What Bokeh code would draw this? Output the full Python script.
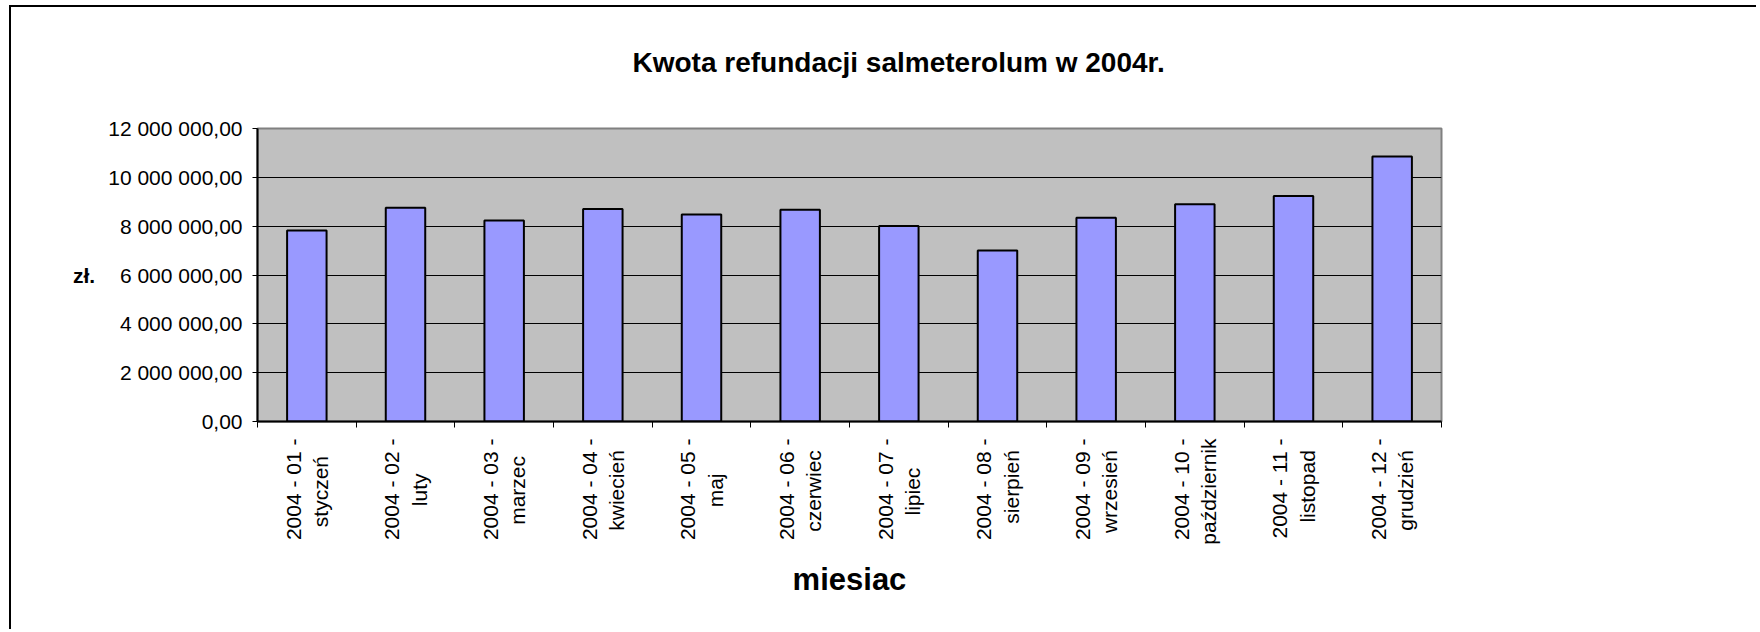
import math
from bokeh.plotting import figure
from bokeh.models import ColumnDataSource, FixedTicker, Range1d, LinearAxis
from bokeh.embed import file_html
from bokeh.resources import INLINE

# ---- data ----
months = ["2004 - 01 -\nstyczeń", "2004 - 02 -\nluty", "2004 - 03 -\nmarzec",
          "2004 - 04 -\nkwiecień", "2004 - 05 -\nmaj", "2004 - 06 -\nczerwiec",
          "2004 - 07 -\nlipiec", "2004 - 08 -\nsierpień", "2004 - 09 -\nwrzesień",
          "2004 - 10 -\npaździernik", "2004 - 11 -\nlistopad", "2004 - 12 -\ngrudzień"]
values = [7820000, 8750000, 8230000, 8700000, 8480000, 8670000,
          8010000, 7000000, 8340000, 8900000, 9240000, 10850000]
y_ticks = [0, 2000000, 4000000, 6000000, 8000000, 10000000, 12000000]
y_tick_labels = ["0,00", "2 000 000,00", "4 000 000,00", "6 000 000,00",
                 "8 000 000,00", "10 000 000,00", "12 000 000,00"]
title_text = "Kwota refundacji salmeterolum w 2004r."
x_title = "miesiac"
y_title = "zł."

FONT = "Liberation Sans"

# approximate glyph advance widths (em) used only to centre the two lines of each
# rotated category label (Bokeh aligns multi-line tick labels to one side)
_W = {" ": .278, "-": .333, "a": .556, "c": .5, "d": .556, "e": .556, "g": .556,
      "i": .222, "j": .222, "k": .5, "l": .222, "m": .833, "n": .556, "o": .556,
      "p": .556, "r": .333, "s": .5, "t": .278, "u": .556, "w": .722, "y": .5,
      "z": .5, "ń": .556, "ź": .5}


def _w(s):
    return sum(_W.get(ch, .556) for ch in s)


def centre_lines(label):
    lines = label.split("\n")
    mw = max(_w(l) for l in lines)
    return "\n".join(l + "\u00a0" * int(round((mw - _w(l)) / 2 / .278)) for l in lines)


idx = list(range(len(months)))
centres = [i + 0.5 for i in idx]
src = ColumnDataSource(dict(x=centres, top=values))

p = figure(width=1747, height=624, output_backend="svg", toolbar_location=None,
           x_range=Range1d(0, len(months)), y_range=Range1d(0, 12000000),
           x_axis_location=None,
           min_border_left=246, min_border_right=317, min_border_top=121,
           min_border_bottom=210)
p.styles = {"border-left": "2px solid black", "border-top": "2px solid black",
            "margin-left": "9px", "margin-top": "5px"}

p.background_fill_color = "#C0C0C0"
p.border_fill_color = "white"
p.outline_line_color = "#808080"
p.outline_line_width = 2

p.vbar(x="x", top="top", width=0.4, bottom=0, source=src,
       fill_color="#9999FF", line_color="black", line_width=2)

# empty spacer axis above the frame, so the title sits higher
spacer = LinearAxis(ticker=FixedTicker(ticks=[]), axis_line_color=None,
                    major_tick_out=0, major_tick_in=0, minor_tick_out=0, minor_tick_in=0,
                    major_label_standoff=0, axis_label="\u00a0",
                    axis_label_text_font_size="10px", axis_label_text_alpha=0,
                    axis_label_standoff=32)
p.add_layout(spacer, "above")

# title
p.title.text = title_text
p.title.align = "left"
p.title.offset = 375
p.title.standoff = 10
p.title.text_font = FONT
p.title.text_font_size = "28px"
p.title.text_font_style = "bold"
p.title.text_color = "black"

# y axis
ya = p.yaxis[0]
ya.ticker = FixedTicker(ticks=y_ticks)
ya.major_label_overrides = {t: l for t, l in zip(y_ticks, y_tick_labels)}
ya.major_label_text_font = FONT
ya.major_label_text_font_size = "21px"
ya.major_label_text_color = "black"
ya.major_tick_out = 5
ya.major_tick_in = 0
ya.minor_tick_out = 0
ya.minor_tick_in = 0
ya.major_label_standoff = 10
ya.axis_line_color = "black"
ya.axis_line_width = 2
ya.major_tick_line_color = "black"
ya.axis_label = y_title
ya.axis_label_text_font = FONT
ya.axis_label_text_font_size = "21px"
ya.axis_label_text_font_style = "bold"
ya.axis_label_text_color = "black"
ya.axis_label_standoff = 10
if "axis_label_orientation" in LinearAxis.properties():
    ya.axis_label_orientation = "horizontal"

# x axis A: ticks on category boundaries
xa = LinearAxis(ticker=FixedTicker(ticks=list(range(len(months) + 1))),
                major_label_overrides={i: "" for i in range(len(months) + 1)},
                major_label_text_font_size="0px", major_label_standoff=0,
                major_tick_out=6, major_tick_in=0, minor_tick_out=0, minor_tick_in=0,
                axis_line_color="black", axis_line_width=2,
                major_tick_line_color="black")
p.add_layout(xa, "below")

# x axis B: category labels
xb = LinearAxis(ticker=FixedTicker(ticks=centres),
                major_label_overrides={c: centre_lines(m) for c, m in zip(centres, months)},
                major_label_orientation=math.pi / 2,
                major_label_text_font=FONT, major_label_text_font_size="21px",
                major_label_text_color="black", major_label_standoff=11,
                major_tick_out=0, major_tick_in=0, minor_tick_out=0, minor_tick_in=0,
                axis_line_color=None, major_tick_line_color=None,
                axis_label=x_title, axis_label_text_font=FONT,
                axis_label_text_font_size="31px", axis_label_text_font_style="bold",
                axis_label_text_color="black", axis_label_standoff=14)
p.add_layout(xb, "below")

for g in p.xgrid:
    g.visible = False
p.ygrid.ticker = FixedTicker(ticks=y_ticks[1:-1])
p.ygrid.grid_line_color = "black"
p.ygrid.grid_line_width = 1

open("out.html", "w").write(file_html(p, INLINE))
